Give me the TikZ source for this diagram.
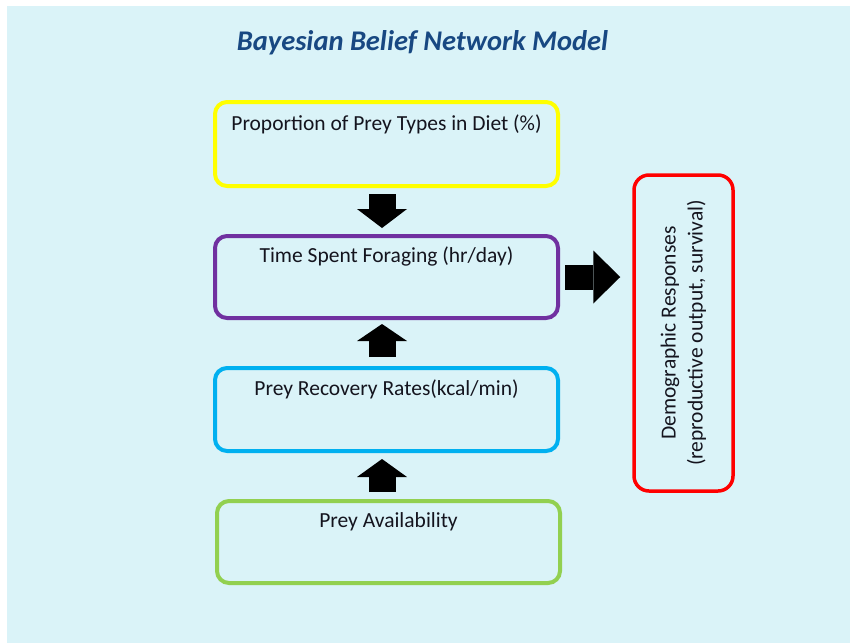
\documentclass[tikz,border=0pt]{standalone}
\usepackage{fontspec}
\setmainfont{Carlito}
\usetikzlibrary{arrows.meta,calc}
\definecolor{bgblue}{RGB}{218,243,248}
\definecolor{titleblue}{RGB}{24,72,130}
\definecolor{txt}{RGB}{20,20,30}
\definecolor{boxyellow}{RGB}{255,255,0}
\definecolor{boxpurple}{RGB}{112,48,160}
\definecolor{boxblue}{RGB}{0,176,240}
\definecolor{boxgreen}{RGB}{146,208,80}
\definecolor{boxred}{RGB}{255,0,0}
\begin{document}
\begin{tikzpicture}[x=1pt,y=-1pt,
  box/.style={draw, line width=4pt, rounded corners=12pt, minimum width=343pt,
    inner sep=0pt, anchor=north, text=txt, font=\fontsize{21.5}{27}\selectfont},
  vblock/.style={line width=27pt, -{Triangle[width=50pt,length=#1,line width=0pt]}},
  hblock/.style={line width=25pt, -{Triangle[width=53pt,length=27pt,line width=0pt]}}
]
\useasboundingbox (0,0) rectangle (850,643);
\fill[white] (0,0) rectangle (850,643);
\fill[bgblue] (7,6) rectangle (850,643);

\node[anchor=base, text=titleblue, font=\fontsize{28.5}{32}\selectfont\bfseries\itshape]
  (title) at (422.5,50) {Bayesian Belief Network Model};

\node[box, draw=boxyellow, text height=28pt, text depth=56pt] (diet) at (386.5,100)
  {Proportion of Prey Types in Diet (\%)};
\node[box, draw=boxpurple, text height=26pt, text depth=56pt] (forage) at (386.5,234)
  {Time Spent Foraging (hr/day)};
\node[box, draw=boxblue, text height=27pt, text depth=56pt] (recov) at (386.5,366)
  {Prey Recovery Rates(kcal/min)};
\node[box, draw=boxgreen, text height=26pt, text depth=56pt] (avail) at (388.5,499)
  {Prey Availability};

\node[draw=boxred, line width=3.5pt, rounded corners=15pt, rotate=90,
  minimum width=316pt, minimum height=99pt, inner sep=0pt, align=center,
  text=txt, font=\fontsize{21.5}{27}\selectfont] (demo) at (683.5,333)
  {Demographic Responses\\(reproductive output, survival)};

\draw[vblock=19pt] ([xshift=-4.5pt,yshift=-6pt]diet.south) -- ([xshift=-4.5pt,yshift=6pt]forage.north);
\draw[vblock=17pt] ([xshift=-4.5pt,yshift=9pt]recov.north) -- ([xshift=-4.5pt,yshift=-4pt]forage.south);
\draw[vblock=18pt] ([xshift=-6.5pt,yshift=7pt]avail.north) -- ([xshift=-4.5pt,yshift=-6pt]recov.south);
\draw[hblock] ([xshift=5pt]forage.east) -- ([xshift=-12pt]demo.north |- forage.east);
\end{tikzpicture}
\end{document}
